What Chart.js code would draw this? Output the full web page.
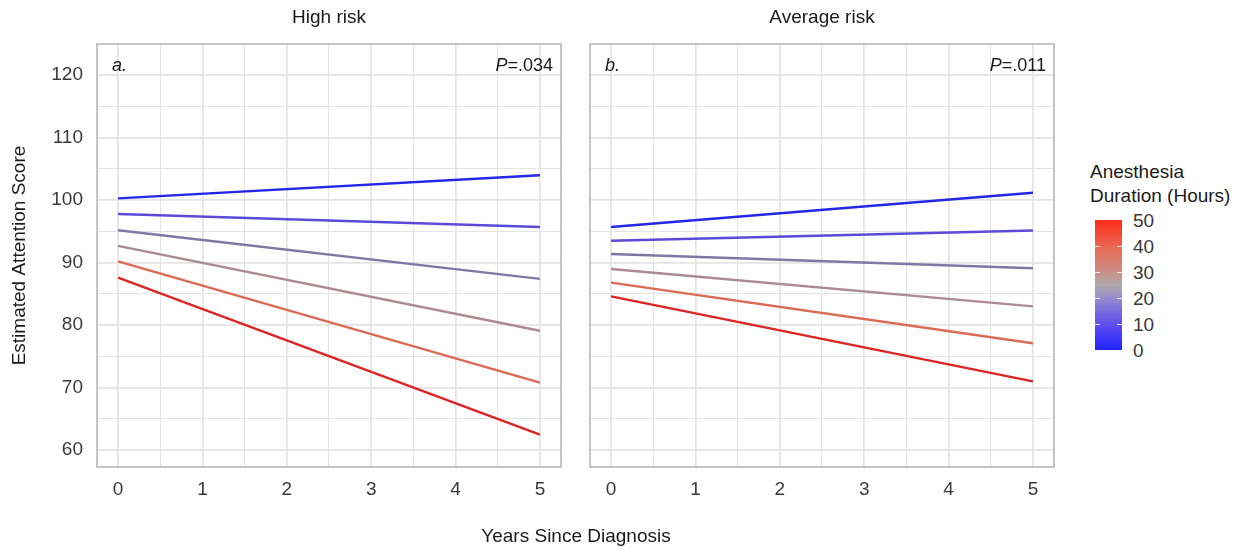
<!DOCTYPE html>
<html><head><meta charset="utf-8">
<script src="https://cdn.jsdelivr.net/npm/chart.js@4.4.1/dist/chart.umd.min.js"></script>
<style>
html,body{margin:0;padding:0;background:#fff;width:1248px;height:549px;overflow:hidden;font-family:"Liberation Sans",Arial,sans-serif;}
canvas{position:absolute;top:0;}
#c1{left:0;}
#c2{left:575px;}
.txt{position:absolute;font-size:19px;color:#1a1a1a;white-space:nowrap;}
#xtitle{left:0;width:1152px;text-align:center;top:525px;line-height:22px;}
#ltitle{left:1090px;top:160px;line-height:24px;}
#cbar{position:absolute;left:1095px;top:220px;width:27px;height:130px;
 background:linear-gradient(to top,#2323ff 0%,#5f4ff0 20%,#958bcc 40%,#b0a9aa 50%,#c99089 60%,#ea6650 80%,#ff2b1a 100%);}
.cbt{position:absolute;left:1133px;font-size:19px;color:#3a3a3a;line-height:20px;}
.tk{position:absolute;height:1px;width:5px;background:rgba(255,255,255,0.85);}
</style></head><body>
<canvas id="c1" width="575" height="549"></canvas>
<canvas id="c2" width="500" height="549"></canvas>
<div class="txt" id="xtitle">Years Since Diagnosis</div>
<div class="txt" id="ltitle">Anesthesia<br>Duration (Hours)</div>
<div id="cbar"></div>
<div id="cblabels"></div>
<script>
// ---- data ----
const years = [0, 5];
const durations = [0, 10, 20, 30, 40, 50];
const highRiskYear0 = [100.3, 97.8, 95.2, 92.7, 90.2, 87.6];
const highRiskYear5 = [104.0, 95.7, 87.4, 79.1, 70.8, 62.5];
const avgRiskYear0 = [95.7, 93.5, 91.4, 89.0, 86.8, 84.6];
const avgRiskYear5 = [101.2, 95.15, 89.1, 83.0, 77.1, 71.0];
const xTickValues = [0, 0.5, 1, 1.5, 2, 2.5, 3, 3.5, 4, 4.5, 5];
const yTickValues = [60, 65, 70, 75, 80, 85, 90, 95, 100, 105, 110, 115, 120];
const legendTicks = [0, 10, 20, 30, 40, 50];
const panelTitles = ['High risk', 'Average risk'];
const panelTags = ['a.', 'b.'];
const pValues = ['=.034', '=.011'];

// ---- styles ----
const FAMILY = '"Liberation Sans", Arial, sans-serif';
const FS = 19;
const lineColors = ['#2626e8', '#5b4ad9', '#7f78a6', '#aa8b92', '#db6a55', '#dc2525'];
const gridColor = '#e4e4e4';

const panelDeco = {
  id: 'panelDeco',
  afterDraw(chart, args, opts) {
    const {ctx, chartArea: a} = chart;
    ctx.save();
    ctx.strokeStyle = '#b3b3b3';
    ctx.lineWidth = 1.5;
    ctx.strokeRect(a.left, a.top, a.right - a.left, a.bottom - a.top);
    ctx.fillStyle = '#1a1a1a';
    ctx.textBaseline = 'middle';
    ctx.textAlign = 'center';
    ctx.font = FS + 'px ' + FAMILY;
    ctx.fillText(opts.title, (a.left + a.right) / 2, 18);
    ctx.textAlign = 'left';
    const af = 18;
    ctx.font = 'italic ' + af + 'px ' + FAMILY;
    ctx.fillText(opts.tag, a.left + 15, a.top + 22);
    ctx.font = af + 'px ' + FAMILY;
    const rest = opts.p;
    const wRest = ctx.measureText(rest).width;
    ctx.font = 'italic ' + af + 'px ' + FAMILY;
    const wP = ctx.measureText('P').width;
    const xEnd = a.right - 8;
    ctx.fillText('P', xEnd - wRest - wP, a.top + 22);
    ctx.font = af + 'px ' + FAMILY;
    ctx.fillText(rest, xEnd - wRest, a.top + 22);
    ctx.restore();
  }
};

function makeDatasets(y0, y5) {
  return durations.map((d, i) => ({
    label: String(d),
    data: [{x: years[0], y: y0[i]}, {x: years[1], y: y5[i]}],
    borderColor: lineColors[i],
    borderWidth: 2.4,
    pointRadius: 0,
    tension: 0
  }));
}

function makeOptions(idx, showY, padL, padR) {
  return {
    responsive: false,
    animation: false,
    layout: {padding: {left: padL, right: padR, top: 44, bottom: 0}},
    plugins: {
      legend: {display: false},
      tooltip: {enabled: false},
      title: {display: false},
      panelDeco: {title: panelTitles[idx], tag: panelTags[idx], p: pValues[idx]}
    },
    scales: {
      x: {
        type: 'linear', min: -0.25, max: 5.25,
        afterBuildTicks: s => { s.ticks = xTickValues.map(v => ({value: v})); },
        afterFit: s => { s.height = 82; },
        border: {display: false},
        grid: {color: gridColor, drawTicks: false,
               lineWidth: c => (c.tick && Number.isInteger(c.tick.value)) ? 1.7 : 1.1},
        ticks: {autoSkip: false, maxRotation: 0, padding: 11, color: '#3a3a3a',
                font: {family: FAMILY, size: FS},
                callback: v => Number.isInteger(v) ? String(v) : ''}
      },
      y: {
        type: 'linear', min: 57.3, max: 125,
        afterBuildTicks: s => { s.ticks = yTickValues.map(v => ({value: v})); },
        afterFit: s => { s.width = showY ? 97 : 0; },
        border: {display: false},
        grid: {color: gridColor, drawTicks: false,
               lineWidth: c => (c.tick && c.tick.value % 10 === 0) ? 1.7 : 1.1},
        ticks: {display: showY, autoSkip: false, padding: 14, color: '#3a3a3a',
                font: {family: FAMILY, size: FS},
                callback: v => (v % 10 === 0) ? String(v) : ''},
        title: {display: showY, text: 'Estimated Attention Score', color: '#1a1a1a',
                font: {family: FAMILY, size: FS}, padding: {top: 8.5, bottom: 0}}
      }
    }
  };
}

new Chart(document.getElementById('c1'), {
  type: 'line',
  data: {datasets: makeDatasets(highRiskYear0, highRiskYear5)},
  options: makeOptions(0, true, 0, 14),
  plugins: [panelDeco]
});
new Chart(document.getElementById('c2'), {
  type: 'line',
  data: {datasets: makeDatasets(avgRiskYear0, avgRiskYear5)},
  options: makeOptions(1, false, 15, 21),
  plugins: [panelDeco]
});

// colour bar labels
const lab = document.getElementById('cblabels');
const barTop = 220, barH = 130;
legendTicks.forEach(v => {
  const y = barTop + barH - v / 50 * barH;
  const d = document.createElement('div');
  d.className = 'cbt';
  d.textContent = String(v);
  d.style.top = (y - 10 + 1) + 'px';
  lab.appendChild(d);
  if (v > 0 && v < 50) {
    ['1095px', '1117px'].forEach(l => {
      const t = document.createElement('div');
      t.className = 'tk';
      t.style.left = l;
      t.style.top = Math.round(y) + 'px';
      lab.appendChild(t);
    });
  }
});
</script>
</body></html>
